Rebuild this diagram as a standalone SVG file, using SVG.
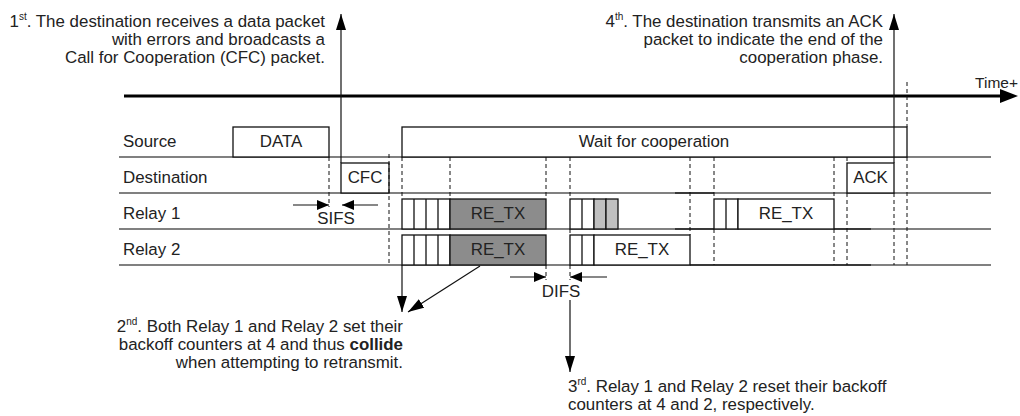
<svg xmlns="http://www.w3.org/2000/svg" width="1020" height="416" viewBox="0 0 1020 416">
<defs>
<style>
text{font-family:"Liberation Sans",Arial,sans-serif;font-size:16.9px;fill:#222}
text.axis{font-size:15.5px}
.sup{font-size:10px}
.row{stroke:#808080;stroke-width:2;fill:none}
.blk{stroke:#222;stroke-width:1.5;fill:none}
.box{fill:#fff;stroke:#111;stroke-width:1.3}
.dark{fill:#8c8c8c;stroke:#111;stroke-width:1.3}
.light{fill:#c0c0c0;stroke:#111;stroke-width:1.3}
.slot{stroke:#111;stroke-width:1.3}
.dash{stroke:#111;stroke-width:1;stroke-dasharray:4,3;fill:none}
.conn{stroke:#111;stroke-width:1.2;fill:none}
.mid{text-anchor:middle}
.end{text-anchor:end}
</style>
<marker id="ah" markerWidth="16" markerHeight="10" refX="16" refY="5" orient="auto" markerUnits="userSpaceOnUse">
<path d="M0,0 L16,5 L0,10 Z" fill="#000"/>
</marker>
<marker id="ahs" markerWidth="12" markerHeight="10" refX="12" refY="5" orient="auto" markerUnits="userSpaceOnUse">
<path d="M0,0 L12,5 L0,10 Z" fill="#000"/>
</marker>
</defs>

<g id="time-axis">
<line x1="124" y1="96" x2="1002" y2="96" stroke="#000" stroke-width="3"/>
<polygon points="1000,89 1018,96 1000,103" fill="#000"/>
<text class="axis end" x="1018" y="88">Time+</text>
</g>

<g id="row-lines">
<line class="row" x1="119" y1="157" x2="991" y2="157"/>
<line class="row" x1="119" y1="193" x2="991" y2="193"/>
<line class="row" x1="119" y1="229" x2="991" y2="229"/>
<line class="row" x1="119" y1="265" x2="991" y2="265"/>
<line class="blk" x1="675" y1="193" x2="714" y2="193"/>
<line class="blk" x1="675" y1="229" x2="714" y2="229"/>
<line class="blk" x1="834" y1="229" x2="871" y2="229"/>
<line class="blk" x1="690" y1="265" x2="871" y2="265"/>
</g>

<g id="source">
<text x="123" y="147">Source</text>
<rect class="box" x="233" y="127" width="96" height="30"/>
<text class="mid" x="281" y="147">DATA</text>
<rect class="box" x="402" y="127" width="505" height="30"/>
<text class="mid" x="654" y="147">Wait for cooperation</text>
</g>

<g id="destination">
<text x="123" y="183">Destination</text>
<rect class="box" x="341" y="163" width="48" height="30"/>
<text class="mid" x="365" y="183">CFC</text>
<rect class="box" x="847" y="163" width="47" height="30"/>
<text class="mid" x="870.5" y="183">ACK</text>
</g>

<g id="relay1">
<text x="123" y="219">Relay 1</text>
<rect class="box" x="402" y="199" width="48" height="30"/>
<line class="slot" x1="414" y1="199" x2="414" y2="229"/>
<line class="slot" x1="426" y1="199" x2="426" y2="229"/>
<line class="slot" x1="438" y1="199" x2="438" y2="229"/>
<rect class="dark" x="450" y="199" width="96" height="30"/>
<text class="mid" x="498" y="219">RE_TX</text>
<rect class="box" x="570" y="199" width="24" height="30"/>
<line class="slot" x1="582" y1="199" x2="582" y2="229"/>
<rect class="light" x="594" y="199" width="12" height="30"/>
<rect class="light" x="606" y="199" width="12" height="30"/>
<rect class="box" x="714" y="199" width="24" height="30"/>
<line class="slot" x1="726" y1="199" x2="726" y2="229"/>
<rect class="box" x="738" y="199" width="96" height="30"/>
<text class="mid" x="786" y="219">RE_TX</text>
</g>

<g id="relay2">
<text x="123" y="255">Relay 2</text>
<rect class="box" x="402" y="235" width="48" height="30"/>
<line class="slot" x1="414" y1="235" x2="414" y2="265"/>
<line class="slot" x1="426" y1="235" x2="426" y2="265"/>
<line class="slot" x1="438" y1="235" x2="438" y2="265"/>
<rect class="dark" x="450" y="235" width="96" height="30"/>
<text class="mid" x="498" y="255">RE_TX</text>
<rect class="box" x="570" y="235" width="24" height="30"/>
<line class="slot" x1="582" y1="235" x2="582" y2="265"/>
<rect class="box" x="594" y="235" width="96" height="30"/>
<text class="mid" x="642" y="255">RE_TX</text>
</g>

<g id="guides">
<line class="dash" x1="329" y1="157" x2="329" y2="207"/>
<line class="dash" x1="389" y1="154" x2="389" y2="265"/>
<line class="dash" x1="402" y1="157" x2="402" y2="199"/>
<line class="dash" x1="450" y1="157" x2="450" y2="199"/>
<line class="dash" x1="546" y1="157" x2="546" y2="199"/>
<line class="dash" x1="546" y1="265" x2="546" y2="280"/>
<line class="dash" x1="570" y1="157" x2="570" y2="199"/>
<line class="dash" x1="570" y1="229" x2="570" y2="235"/>
<line class="dash" x1="570" y1="265" x2="570" y2="280"/>
<line class="dash" x1="690" y1="157" x2="690" y2="235"/>
<line class="dash" x1="714" y1="157" x2="714" y2="199"/>
<line class="dash" x1="714" y1="229" x2="714" y2="265"/>
<line class="dash" x1="834" y1="157" x2="834" y2="199"/>
<line class="dash" x1="834" y1="229" x2="834" y2="265"/>
<line class="dash" x1="847" y1="157" x2="847" y2="163"/>
<line class="dash" x1="847" y1="193" x2="847" y2="265"/>
<line class="dash" x1="894" y1="193" x2="894" y2="265"/>
<line class="dash" x1="907" y1="82" x2="907" y2="127"/>
<line class="dash" x1="907" y1="157" x2="907" y2="265"/>
</g>

<g id="connectors">
<line class="conn" x1="341" y1="163" x2="341" y2="14" marker-end="url(#ah)"/>
<line class="conn" x1="894" y1="163" x2="894" y2="14" marker-end="url(#ah)"/>
<line class="conn" x1="402" y1="265" x2="402" y2="312" marker-end="url(#ah)"/>
<line class="conn" x1="480" y1="266" x2="408" y2="312" marker-end="url(#ah)"/>
<line class="conn" x1="570" y1="300" x2="570" y2="372" marker-end="url(#ah)"/>
<line class="conn" x1="293" y1="205" x2="329" y2="205" marker-end="url(#ahs)"/>
<line class="conn" x1="378" y1="205" x2="342" y2="205" marker-end="url(#ahs)"/>
<line class="conn" x1="510" y1="277" x2="546" y2="277" marker-end="url(#ahs)"/>
<line class="conn" x1="607" y1="277" x2="570" y2="277" marker-end="url(#ahs)"/>
</g>

<g id="interval-labels">
<text class="mid" x="336" y="224">SIFS</text>
<text class="mid" x="561" y="297">DIFS</text>
</g>

<g id="note1">
<text class="end" x="325" y="27">1<tspan class="sup" dy="-7">st</tspan><tspan dy="7">. The destination receives a data packet</tspan></text>
<text class="end" x="325" y="45">with errors and broadcasts a</text>
<text class="end" x="325" y="63">Call for Cooperation (CFC) packet.</text>
</g>

<g id="note2">
<text class="end" x="403" y="332">2<tspan class="sup" dy="-7">nd</tspan><tspan dy="7">. Both Relay 1 and Relay 2 set their</tspan></text>
<text class="end" x="403" y="350">backoff counters at 4 and thus <tspan font-weight="bold">collide</tspan></text>
<text class="end" x="403" y="368">when attempting to retransmit.</text>
</g>

<g id="note3">
<text x="568" y="392">3<tspan class="sup" dy="-7">rd</tspan><tspan dy="7">. Relay 1 and Relay 2 reset their backoff</tspan></text>
<text x="568" y="410">counters at 4 and 2, respectively.</text>
</g>

<g id="note4">
<text class="end" x="883" y="27">4<tspan class="sup" dy="-7">th</tspan><tspan dy="7">. The destination transmits an ACK</tspan></text>
<text class="end" x="883" y="45">packet to indicate the end of the</text>
<text class="end" x="883" y="63">cooperation phase.</text>
</g>
</svg>
